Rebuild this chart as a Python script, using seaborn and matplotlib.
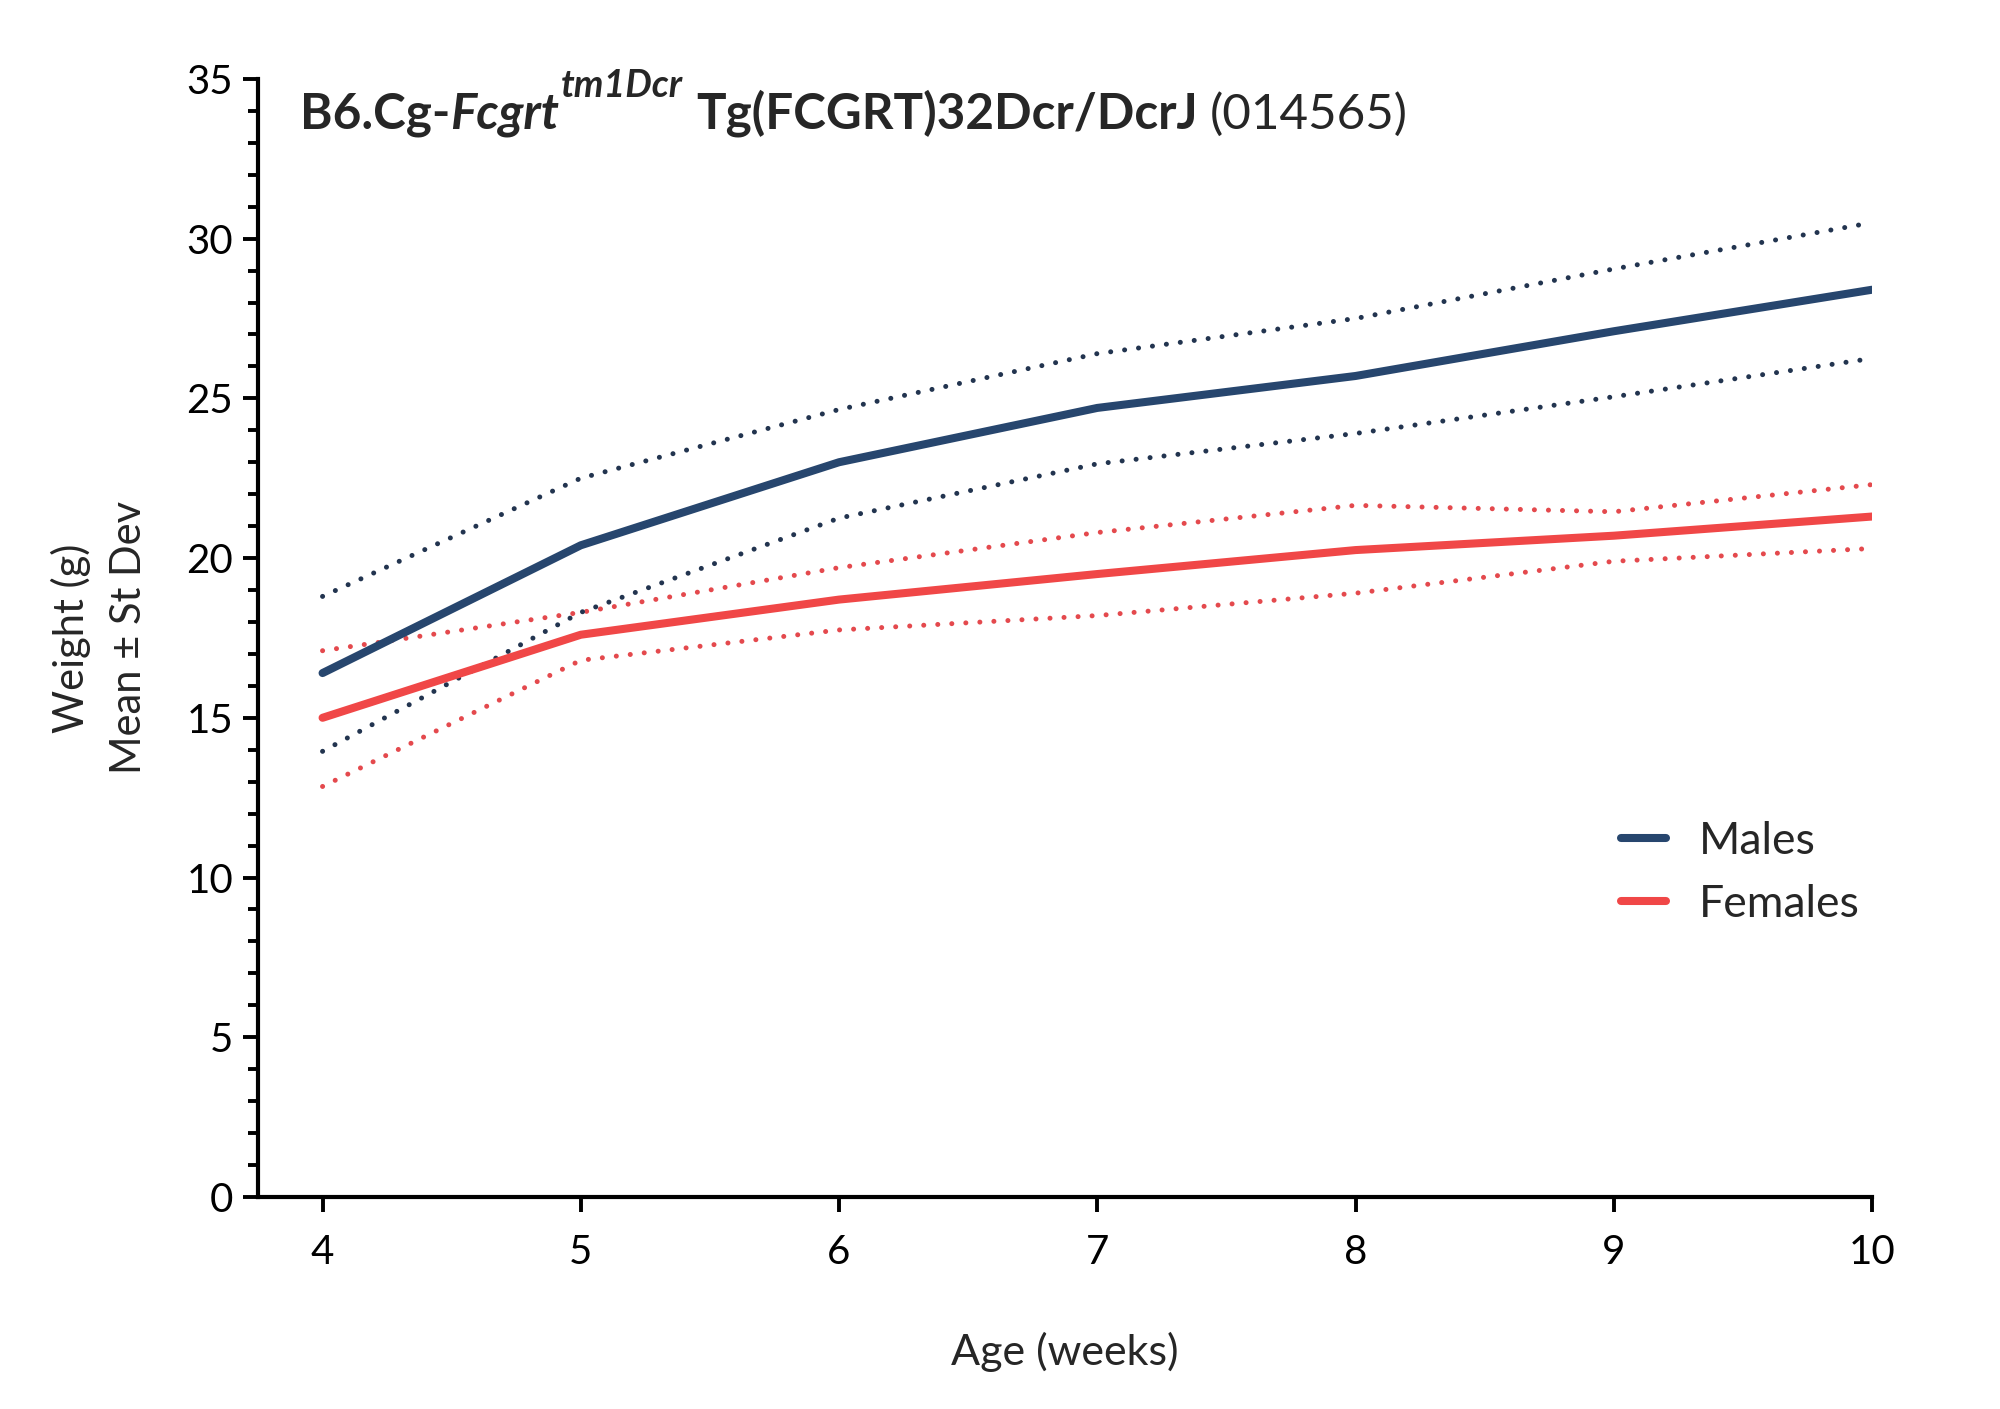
import pandas as pd
import matplotlib
matplotlib.use("Agg")
import matplotlib.pyplot as plt
import seaborn as sns
from matplotlib.ticker import MultipleLocator

# Weight curves
weeks = [4, 5, 6, 7, 8, 9, 10]
male_mean = [16.4, 20.4, 23.0, 24.7, 25.7, 27.1, 28.4]
male_upper = [18.8, 22.5, 24.65, 26.4, 27.5, 29.05, 30.5]
male_lower = [13.95, 18.3, 21.25, 22.95, 23.9, 25.05, 26.25]
female_mean = [15.0, 17.6, 18.7, 19.5, 20.25, 20.7, 21.3]
female_upper = [17.1, 18.3, 19.7, 20.8, 21.65, 21.45, 22.3]
female_lower = [12.85, 16.8, 17.75, 18.2, 18.9, 19.9, 20.3]

groups = ["Males", "Females"]
mean_colors = {"Males": "#27466e", "Females": "#f04747"}
band_colors = {"Males": "#22344f", "Females": "#e4494d"}

rows = []
for g, m, up, lo in [("Males", male_mean, male_upper, male_lower),
                     ("Females", female_mean, female_upper, female_lower)]:
    for w, a, b, c in zip(weeks, m, up, lo):
        rows.append({"week": w, "sex": g, "mean": a, "upper": b, "lower": c})
df = pd.DataFrame(rows)

sns.set_style("ticks")
plt.rcParams['font.family'] = ['Lato', 'DejaVu Sans']

fig = plt.figure(figsize=(10, 7.045), dpi=200)
ax = fig.add_axes([0.129, 0.1505, 0.807, 0.7935])

dots = (0, (0.01, 2.8))
for col in ["upper", "lower"]:
    sns.lineplot(data=df, x="week", y=col, hue="sex", hue_order=groups,
                 palette=band_colors, linewidth=1.8, linestyle=dots,
                 dash_capstyle="round", legend=False, ax=ax)
sns.lineplot(data=df, x="week", y="mean", hue="sex", hue_order=groups,
             palette=mean_colors, linewidth=2.9, ax=ax)

ax.set_xlim(3.75, 10)
ax.set_ylim(0, 35)
ax.set_xticks(weeks)
ax.yaxis.set_major_locator(MultipleLocator(5))
ax.yaxis.set_minor_locator(MultipleLocator(1))
ax.tick_params(axis="both", which="major", length=5.4, width=1.4,
               labelsize=14.5, color="black", labelcolor="black")
ax.tick_params(axis="y", which="minor", length=3.6, width=1.4, color="black")
ax.tick_params(axis="x", pad=8)
for s in ["left", "bottom"]:
    ax.spines[s].set_linewidth(1.5)
    ax.spines[s].set_color("black")
sns.despine(ax=ax)

ax.set_xlabel("Age (weeks)", fontsize=15.5, labelpad=22)
ax.set_ylabel("Weight (g)\nMean \u00b1 St Dev", fontsize=15, labelpad=14,
              linespacing=1.6)

leg = ax.legend(loc="center left", bbox_to_anchor=(0.82, 0.29),
                frameon=False, fontsize=16, handlelength=1.0,
                handletextpad=0.75, labelspacing=0.5)
for line in leg.get_lines():
    line.set_linewidth(2.9)

# Title with mixed weights / italics
t1 = ax.text(0.026, 0.956, "B6.Cg-", transform=ax.transAxes, fontsize=17.8,
             fontweight="bold", ha="left", va="baseline")
t2 = ax.annotate("Fcgrt", xy=(1, 0), xycoords=t1, fontsize=17.8,
                 fontweight="bold", style="italic", ha="left", va="bottom")
t3 = ax.annotate("tm1Dcr", xy=(1, 0), xycoords=t2, xytext=(0.5, 12),
                 textcoords="offset points", fontsize=13.5,
                 fontweight="bold", style="italic", ha="left", va="bottom")
t4 = ax.annotate("Tg(FCGRT)32Dcr/DcrJ", xy=(1, 0), xycoords=t3,
                 xytext=(5, -12), textcoords="offset points", fontsize=17.8,
                 fontweight="bold", ha="left", va="bottom")
t5 = ax.annotate("(014565)", xy=(1, 0), xycoords=t4, xytext=(4, 0),
                 textcoords="offset points", fontsize=17.8, ha="left",
                 va="bottom")

fig.savefig("out.png", dpi=200)
